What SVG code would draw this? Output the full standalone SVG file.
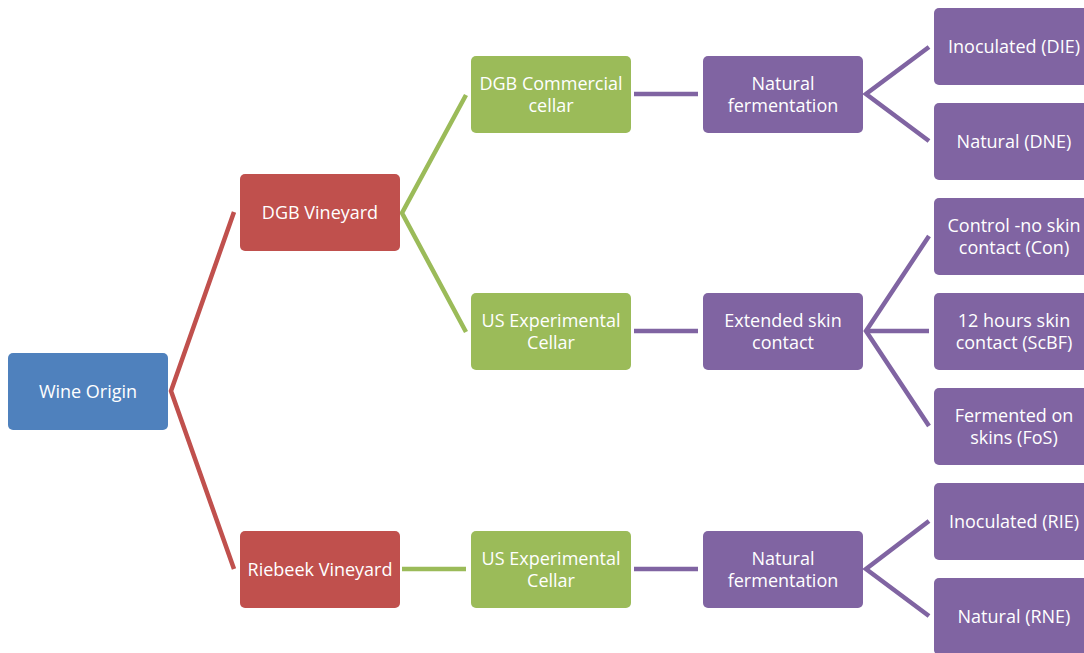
<svg xmlns="http://www.w3.org/2000/svg" width="1084" height="653" viewBox="0 0 1084 653">
<style>
.n rect{rx:5;ry:5}
.b rect{fill:#4F81BD}
.r rect{fill:#C0504D}
.g rect{fill:#9BBB59}
.p rect{fill:#8064A2}
text{font-family:"Open Sans","Noto Sans",sans-serif;font-size:18px;fill:#fff;text-anchor:middle;dominant-baseline:central}
.c{fill:none;stroke-width:4.5;stroke-linejoin:miter}
</style>
<rect width="1084" height="653" fill="#fff"/>
<g id="connectors">
<polyline class="c" stroke="#C0504D" points="234,212 171,391 234,569"/>
<polyline class="c" stroke="#9BBB59" points="466,95 402,213 466,332"/>
<line class="c" stroke="#9BBB59" x1="402" y1="569" x2="466" y2="569"/>
<line class="c" stroke="#8064A2" x1="634" y1="94" x2="698" y2="94"/>
<line class="c" stroke="#8064A2" x1="634" y1="331" x2="698" y2="331"/>
<line class="c" stroke="#8064A2" x1="634" y1="569" x2="698" y2="569"/>
<polyline class="c" stroke="#8064A2" points="929,47 866,94 929,141"/>
<polyline class="c" stroke="#8064A2" points="929,236 866,331 929,426"/>
<line class="c" stroke="#8064A2" x1="866" y1="331" x2="929" y2="331"/>
<polyline class="c" stroke="#8064A2" points="929,521 866,569 929,616"/>
</g>
<g id="wine-origin" class="n b"><rect x="8" y="353" width="160" height="77"/><text x="88" y="391">Wine Origin</text></g>
<g id="dgb-vineyard" class="n r"><rect x="240" y="174" width="160" height="77"/><text x="320" y="212">DGB Vineyard</text></g>
<g id="riebeek-vineyard" class="n r"><rect x="240" y="531" width="160" height="77"/><text x="320" y="569">Riebeek Vineyard</text></g>
<g id="dgb-commercial" class="n g"><rect x="471" y="56" width="160" height="77"/><text x="551" y="83">DGB Commercial</text><text x="551" y="105">cellar</text></g>
<g id="us-exp-1" class="n g"><rect x="471" y="293" width="160" height="77"/><text x="551" y="320">US Experimental</text><text x="551" y="342">Cellar</text></g>
<g id="us-exp-2" class="n g"><rect x="471" y="531" width="160" height="77"/><text x="551" y="558">US Experimental</text><text x="551" y="580">Cellar</text></g>
<g id="natural-ferm-1" class="n p"><rect x="703" y="56" width="160" height="77"/><text x="783" y="83">Natural</text><text x="783" y="105">fermentation</text></g>
<g id="extended-skin" class="n p"><rect x="703" y="293" width="160" height="77"/><text x="783" y="320">Extended skin</text><text x="783" y="342">contact</text></g>
<g id="natural-ferm-2" class="n p"><rect x="703" y="531" width="160" height="77"/><text x="783" y="558">Natural</text><text x="783" y="580">fermentation</text></g>
<g id="die" class="n p"><rect x="934" y="8" width="160" height="77"/><text x="1014" y="46">Inoculated (DIE)</text></g>
<g id="dne" class="n p"><rect x="934" y="103" width="160" height="77"/><text x="1014" y="141">Natural (DNE)</text></g>
<g id="con" class="n p"><rect x="934" y="198" width="160" height="77"/><text x="1014" y="225">Control -no skin</text><text x="1014" y="247">contact (Con)</text></g>
<g id="scbf" class="n p"><rect x="934" y="293" width="160" height="77"/><text x="1014" y="320">12 hours skin</text><text x="1014" y="342">contact (ScBF)</text></g>
<g id="fos" class="n p"><rect x="934" y="388" width="160" height="77"/><text x="1014" y="415">Fermented on</text><text x="1014" y="437">skins (FoS)</text></g>
<g id="rie" class="n p"><rect x="934" y="483" width="160" height="77"/><text x="1014" y="521">Inoculated (RIE)</text></g>
<g id="rne" class="n p"><rect x="934" y="578" width="160" height="77"/><text x="1014" y="616">Natural (RNE)</text></g>
</svg>
